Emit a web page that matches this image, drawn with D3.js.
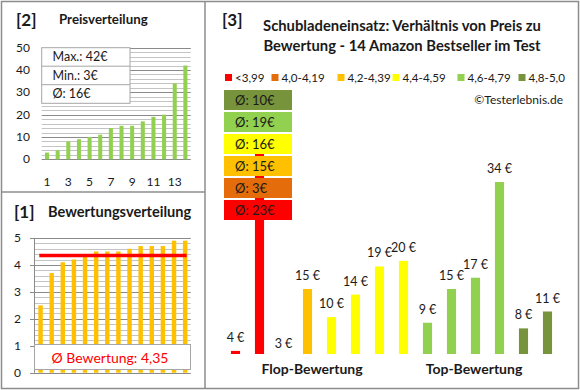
<html>
  <head>
    <script src="https://d3js.org/d3.v7.min.js"></script>
    <style>
      body { margin: 0; background: #fff; }
      text { font-family: Lato, "Open Sans", sans-serif; fill: #1a1a1a; }
    </style>
  </head>
  <body>
    <div id="vis"></div>
  </body>
  <script>
    // [2] Preisverteilung - sorted prices in euro
    var priceDist = [3, 4, 8, 9, 10, 11, 14, 15, 15, 17, 19, 20, 34, 42]
    var priceTicks = [0, 10, 20, 30, 40, 50]
    var priceStats = ["Max.: 42€", "Min.: 3€", "Ø: 16€"]

    // [1] Bewertungsverteilung - sorted ratings
    var ratingDist = [2.5, 3.7, 4.1, 4.2, 4.3, 4.5, 4.5, 4.5, 4.6, 4.7, 4.7, 4.7, 4.9, 4.9]
    var ratingTicks = [0, 1, 2, 3, 4, 5]
    var ratingAvg = 4.35
    var ratingAvgLabel = "Ø Bewertung: 4,35"

    // [3] price vs rating class
    var classNames = ["<3,99", "4,0-4,19", "4,2-4,39", "4,4-4,59", "4,6-4,79", "4,8-5,0"]
    var classAvg = [23, 3, 15, 16, 19, 10]
    var productPrice = [4, 42, 3, 15, 10, 14, 19, 20, 9, 15, 17, 34, 8, 11]
    var productClass = [0, 0, 1, 2, 3, 3, 3, 3, 4, 4, 4, 4, 5, 5]

    var classColors = ["#ff0000", "#e46c0a", "#ffc000", "#ffff00", "#92d050", "#77933c"]
    var frameColor = "#8c8c8c"

    var svg = d3.select("#vis")
      .append("svg")
      .attr("width", 580)
      .attr("height", 390)

    svg.append("rect")
      .attr("width", 580).attr("height", 390)
      .attr("fill", "#fff")

    // panel frames
    svg.append("rect")
      .attr("x", 1.5).attr("y", 1.5)
      .attr("width", 577).attr("height", 387)
      .attr("fill", "none").attr("stroke", frameColor).attr("stroke-width", 1.5)
    svg.append("line")
      .attr("x1", 205).attr("x2", 205).attr("y1", 1.5).attr("y2", 388.5)
      .attr("stroke", frameColor).attr("stroke-width", 1.5)
    svg.append("line")
      .attr("x1", 1.5).attr("x2", 205).attr("y1", 192).attr("y2", 192)
      .attr("stroke", frameColor).attr("stroke-width", 1.5)

    // ---------- [2] Preisverteilung ----------
    var p2 = svg.append("g")

    p2.append("text").text("[2]")
      .attr("x", 16).attr("y", 26)
      .attr("font-size", 17).attr("font-weight", "bold")
    p2.append("text").text("Preisverteilung")
      .attr("x", 59).attr("y", 24)
      .attr("font-size", 13.3).attr("font-weight", "bold")

    var x2 = d3.scaleBand()
      .domain(d3.range(priceDist.length))
      .range([41.7, 190.7])
      .paddingInner(0.62).paddingOuter(0.31)

    var y2 = d3.scaleLinear()
      .domain([0, 50])
      .range([159.3, 47.7])

    p2.selectAll(".minor")
      .data(d3.range(0, 51, 2))
      .enter().append("line")
      .attr("x1", 41.7).attr("x2", 190.7)
      .attr("y1", d => Math.round(y2(d)) + 0.5).attr("y2", d => Math.round(y2(d)) + 0.5)
      .attr("stroke", "#c4c4c4")
    p2.selectAll(".major")
      .data(priceTicks)
      .enter().append("line")
      .attr("x1", 41.7).attr("x2", 190.7)
      .attr("y1", d => Math.round(y2(d)) + 0.5).attr("y2", d => Math.round(y2(d)) + 0.5)
      .attr("stroke", "#8a8a8a")

    p2.selectAll(".ytick")
      .data(priceTicks)
      .enter().append("text")
      .text(d => d)
      .attr("x", 30).attr("y", d => y2(d) + 4)
      .attr("text-anchor", "end").attr("font-size", 12)

    p2.selectAll(".bar")
      .data(priceDist)
      .enter().append("rect")
      .attr("x", (d, i) => x2(i))
      .attr("width", x2.bandwidth())
      .attr("y", d => y2(d))
      .attr("height", d => y2(0) - y2(d))
      .attr("fill", "#92d050")

    p2.selectAll(".xtick")
      .data(d3.range(0, priceDist.length, 2))
      .enter().append("text")
      .text(d => d + 1)
      .attr("x", d => x2(d) + x2.bandwidth() / 2)
      .attr("y", 186)
      .attr("text-anchor", "middle").attr("font-size", 12)

    // stats box
    p2.append("rect")
      .attr("x", 41.7).attr("y", 47.7)
      .attr("width", 88.3).attr("height", 55.6)
      .attr("fill", "#fff").attr("stroke", "#a6a6a6")
    priceStats.forEach(function(s, i) {
      if (i > 0) {
        p2.append("line")
          .attr("x1", 41.7).attr("x2", 130)
          .attr("y1", 47.7 + i * 18.5).attr("y2", 47.7 + i * 18.5)
          .attr("stroke", "#a6a6a6")
      }
      p2.append("text").text(s)
        .attr("x", 52.5).attr("y", 47.7 + i * 18.5 + 13.5)
        .attr("font-size", 12.5)
    })

    // ---------- [1] Bewertungsverteilung ----------
    var p1 = svg.append("g")

    p1.append("text").text("[1]")
      .attr("x", 14).attr("y", 218)
      .attr("font-size", 17).attr("font-weight", "bold")
    p1.append("text").text("Bewertungsverteilung")
      .attr("x", 48).attr("y", 217)
      .attr("font-size", 14.6).attr("font-weight", "bold")

    var x1 = d3.scaleBand()
      .domain(d3.range(ratingDist.length))
      .range([35, 190.7])
      .paddingInner(0.6).paddingOuter(0.3)

    var y1 = d3.scaleLinear()
      .domain([0, 5])
      .range([372.7, 238])

    p1.selectAll(".minor")
      .data(d3.range(0, 5.01, 0.2))
      .enter().append("line")
      .attr("x1", 34).attr("x2", 190.7)
      .attr("y1", d => Math.round(y1(d)) + 0.5).attr("y2", d => Math.round(y1(d)) + 0.5)
      .attr("stroke", "#c4c4c4")
    p1.selectAll(".major")
      .data(ratingTicks)
      .enter().append("line")
      .attr("x1", 30).attr("x2", 190.7)
      .attr("y1", d => Math.round(y1(d)) + 0.5).attr("y2", d => Math.round(y1(d)) + 0.5)
      .attr("stroke", "#8a8a8a")
    p1.append("line")
      .attr("x1", 34.5).attr("x2", 34.5)
      .attr("y1", y1(5)).attr("y2", y1(0))
      .attr("stroke", "#8a8a8a")

    p1.selectAll(".ytick")
      .data(ratingTicks)
      .enter().append("text")
      .text(d => d)
      .attr("x", 21).attr("y", d => y1(d) + 4)
      .attr("text-anchor", "end").attr("font-size", 12)

    p1.selectAll(".bar")
      .data(ratingDist)
      .enter().append("rect")
      .attr("x", (d, i) => x1(i))
      .attr("width", x1.bandwidth())
      .attr("y", d => y1(d))
      .attr("height", d => y1(0) - y1(d))
      .attr("fill", "#ffc000")

    p1.append("line")
      .attr("x1", 39.3).attr("x2", 186.7)
      .attr("y1", y1(ratingAvg)).attr("y2", y1(ratingAvg))
      .attr("stroke", "#ff0000").attr("stroke-width", 3.5)

    p1.append("rect")
      .attr("x", 34.5).attr("y", 344.5)
      .attr("width", 156).attr("height", 25)
      .attr("fill", "#fff").attr("stroke", "#a6a6a6")
    p1.append("text").text(ratingAvgLabel)
      .attr("x", 110).attr("y", 362.5)
      .attr("text-anchor", "middle")
      .attr("font-size", 14)
      .style("fill", "#ff0000")

    // ---------- [3] Preis vs Bewertung ----------
    var p3 = svg.append("g")

    p3.append("text").text("[3]")
      .attr("x", 222).attr("y", 26)
      .attr("font-size", 17).attr("font-weight", "bold")
    p3.append("text").text("Schubladeneinsatz: Verhältnis von Preis zu")
      .attr("x", 402).attr("y", 31)
      .attr("text-anchor", "middle")
      .attr("font-size", 14.8).attr("font-weight", "bold")
    p3.append("text").text("Bewertung - 14 Amazon Bestseller im Test")
      .attr("x", 402).attr("y", 51)
      .attr("text-anchor", "middle")
      .attr("font-size", 14.8).attr("font-weight", "bold")

    // legend
    var legendX = [225, 271.5, 337.5, 392.5, 457.5, 518.5]
    classNames.forEach(function(c, i) {
      p3.append("rect")
        .attr("x", legendX[i]).attr("y", 74)
        .attr("width", 7).attr("height", 7)
        .attr("fill", classColors[i])
      p3.append("text").text(c)
        .attr("x", legendX[i] + 10).attr("y", 81.5)
        .attr("font-size", 11.6)
    })

    p3.append("text").text("©Testerlebnis.de")
      .attr("x", 563).attr("y", 103.5)
      .attr("text-anchor", "end")
      .attr("font-size", 12)

    var x3 = d3.scaleBand()
      .domain(d3.range(productPrice.length))
      .range([223.5, 559.5])
      .paddingInner(0.62).paddingOuter(0.31)

    var y3 = d3.scaleLinear()
      .domain([3.45, 42])
      .range([354, 137])

    p3.selectAll(".bar")
      .data(productPrice)
      .enter().append("rect")
      .attr("x", (d, i) => x3(i))
      .attr("width", x3.bandwidth())
      .attr("y", d => Math.min(y3(d), y3(3.45)))
      .attr("height", d => Math.max(0, y3(3.45) - y3(d)))
      .attr("fill", (d, i) => classColors[productClass[i]])

    // labels that would sit under the average boxes are hidden there
    var boxBottom = 90 + classNames.length * 22
    p3.selectAll(".val")
      .data(productPrice.map((d, i) => ({ v: d, i: i })).filter(d => !(x3(d.i) < 292 && y3(d.v) - 9 < boxBottom)))
      .enter().append("text")
      .text(d => d.v + " €")
      .attr("x", d => x3(d.i) + x3.bandwidth() / 2)
      .attr("y", d => y3(d.v) - 9)
      .attr("text-anchor", "middle")
      .attr("font-size", 12.5)

    // average boxes per rating class (best class on top)
    classAvg.forEach(function(a, i) {
      var top = 90 + (classNames.length - 1 - i) * 22
      p3.append("rect")
        .attr("x", 224).attr("y", top)
        .attr("width", 68).attr("height", 20)
        .attr("fill", classColors[i])
      p3.append("text").text("Ø: " + a + "€")
        .attr("x", 235).attr("y", top + 14.5)
        .attr("font-size", 13)
    })

    p3.append("text").text("Flop-Bewertung")
      .attr("x", 312).attr("y", 374)
      .attr("text-anchor", "middle")
      .attr("font-size", 14).attr("font-weight", "bold")
    p3.append("text").text("Top-Bewertung")
      .attr("x", 474).attr("y", 374)
      .attr("text-anchor", "middle")
      .attr("font-size", 14).attr("font-weight", "bold")
  </script>
</html>
